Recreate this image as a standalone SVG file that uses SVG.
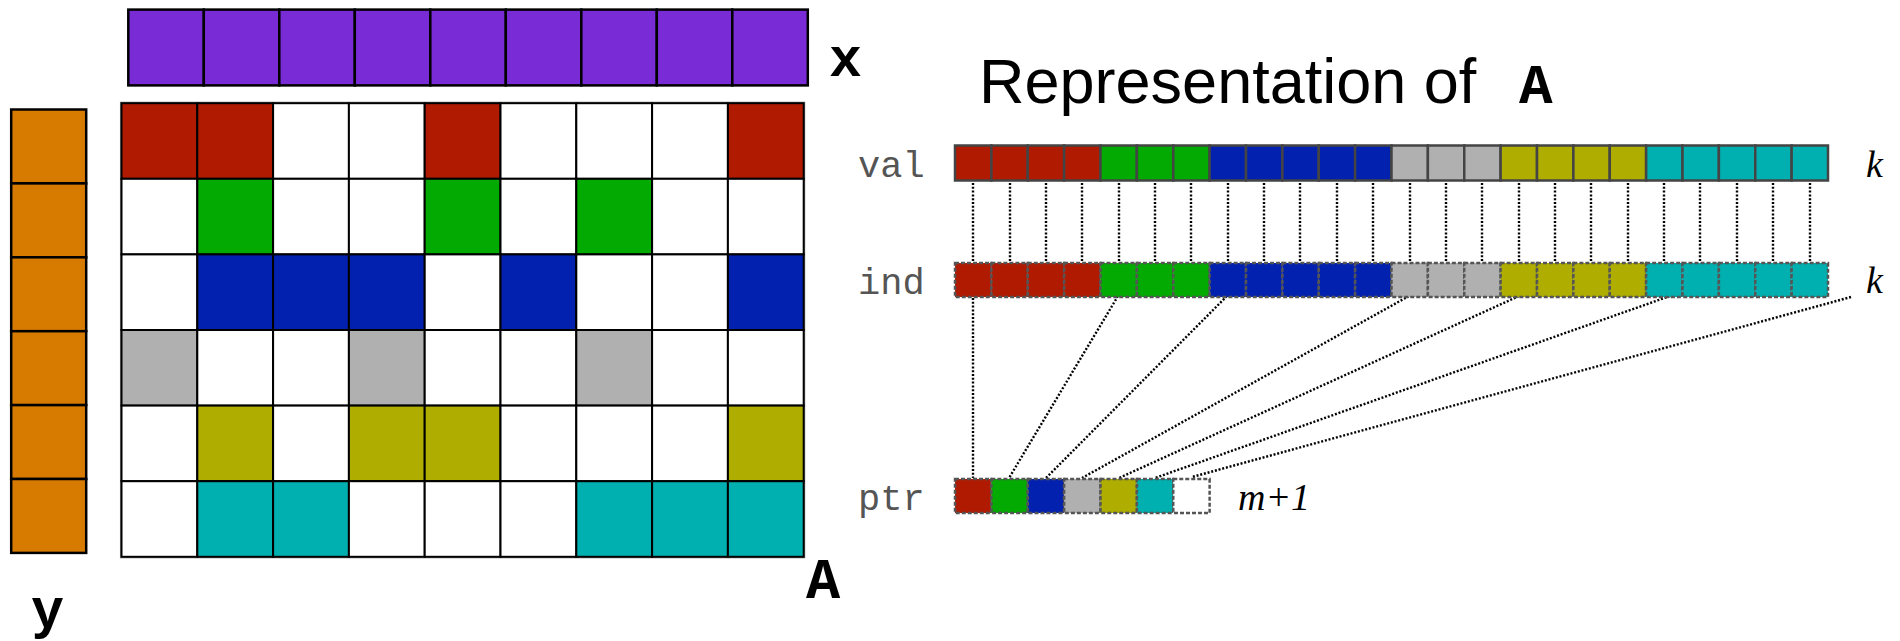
<svg xmlns="http://www.w3.org/2000/svg" width="1900" height="641" viewBox="0 0 1900 641">
<style>
.cell{stroke:#000;stroke-width:2}
.vec{stroke:#000;stroke-width:2.5}
.arr{stroke:#444;stroke-width:2.5}
.dsh{stroke:#555;stroke-width:2.5;stroke-dasharray:4 2}
.r{fill:#AF1A00}.g{fill:#02AA02}.b{fill:#0321AF}.s{fill:#B0B0B0}.o{fill:#AFAD00}.t{fill:#00AFAF}.w{fill:#fff}
.p{fill:#792CD6}.y{fill:#D77A00}
.dot{stroke:#000;stroke-width:2.4;stroke-dasharray:2 1.8;fill:none}
.big{font-family:"Liberation Mono",monospace;font-weight:bold;fill:#000}
.lab{font-family:"Liberation Mono",monospace;font-size:37px;fill:#555}
.it{font-family:"Liberation Serif",serif;font-style:italic;font-size:38px;fill:#000}
</style>
<rect width="1900" height="641" fill="#fff"/>
<g id="vector-x">
<rect class="p vec" x="128.3" y="9.6" width="75.5" height="75.8"/>
<rect class="p vec" x="203.8" y="9.6" width="75.5" height="75.8"/>
<rect class="p vec" x="279.3" y="9.6" width="75.5" height="75.8"/>
<rect class="p vec" x="354.8" y="9.6" width="75.5" height="75.8"/>
<rect class="p vec" x="430.3" y="9.6" width="75.5" height="75.8"/>
<rect class="p vec" x="505.8" y="9.6" width="75.5" height="75.8"/>
<rect class="p vec" x="581.3" y="9.6" width="75.5" height="75.8"/>
<rect class="p vec" x="656.8" y="9.6" width="75.5" height="75.8"/>
<rect class="p vec" x="732.3" y="9.6" width="75.5" height="75.8"/>
<text class="big" x="829" y="76" font-size="55">x</text>
</g>
<g id="vector-y">
<rect class="y vec" x="11.2" y="109.5" width="75" height="73.9"/>
<rect class="y vec" x="11.2" y="183.4" width="75" height="73.9"/>
<rect class="y vec" x="11.2" y="257.3" width="75" height="73.9"/>
<rect class="y vec" x="11.2" y="331.2" width="75" height="73.9"/>
<rect class="y vec" x="11.2" y="405.1" width="75" height="73.9"/>
<rect class="y vec" x="11.2" y="479.0" width="75" height="73.9"/>
<text class="big" x="31" y="627" font-size="55">y</text>
</g>
<g id="matrix-A">
<rect x="120.7" y="102.4" width="683.8" height="455.2" fill="none" stroke="#999" stroke-width="1.5"/>
<rect class="cell r" x="121.5" y="103.2" width="75.8" height="75.6"/>
<rect class="cell r" x="197.3" y="103.2" width="75.8" height="75.6"/>
<rect class="cell w" x="273.1" y="103.2" width="75.8" height="75.6"/>
<rect class="cell w" x="348.9" y="103.2" width="75.8" height="75.6"/>
<rect class="cell r" x="424.7" y="103.2" width="75.8" height="75.6"/>
<rect class="cell w" x="500.5" y="103.2" width="75.8" height="75.6"/>
<rect class="cell w" x="576.3" y="103.2" width="75.8" height="75.6"/>
<rect class="cell w" x="652.1" y="103.2" width="75.8" height="75.6"/>
<rect class="cell r" x="727.9" y="103.2" width="75.8" height="75.6"/>
<rect class="cell w" x="121.5" y="178.8" width="75.8" height="75.6"/>
<rect class="cell g" x="197.3" y="178.8" width="75.8" height="75.6"/>
<rect class="cell w" x="273.1" y="178.8" width="75.8" height="75.6"/>
<rect class="cell w" x="348.9" y="178.8" width="75.8" height="75.6"/>
<rect class="cell g" x="424.7" y="178.8" width="75.8" height="75.6"/>
<rect class="cell w" x="500.5" y="178.8" width="75.8" height="75.6"/>
<rect class="cell g" x="576.3" y="178.8" width="75.8" height="75.6"/>
<rect class="cell w" x="652.1" y="178.8" width="75.8" height="75.6"/>
<rect class="cell w" x="727.9" y="178.8" width="75.8" height="75.6"/>
<rect class="cell w" x="121.5" y="254.4" width="75.8" height="75.6"/>
<rect class="cell b" x="197.3" y="254.4" width="75.8" height="75.6"/>
<rect class="cell b" x="273.1" y="254.4" width="75.8" height="75.6"/>
<rect class="cell b" x="348.9" y="254.4" width="75.8" height="75.6"/>
<rect class="cell w" x="424.7" y="254.4" width="75.8" height="75.6"/>
<rect class="cell b" x="500.5" y="254.4" width="75.8" height="75.6"/>
<rect class="cell w" x="576.3" y="254.4" width="75.8" height="75.6"/>
<rect class="cell w" x="652.1" y="254.4" width="75.8" height="75.6"/>
<rect class="cell b" x="727.9" y="254.4" width="75.8" height="75.6"/>
<rect class="cell s" x="121.5" y="330.0" width="75.8" height="75.6"/>
<rect class="cell w" x="197.3" y="330.0" width="75.8" height="75.6"/>
<rect class="cell w" x="273.1" y="330.0" width="75.8" height="75.6"/>
<rect class="cell s" x="348.9" y="330.0" width="75.8" height="75.6"/>
<rect class="cell w" x="424.7" y="330.0" width="75.8" height="75.6"/>
<rect class="cell w" x="500.5" y="330.0" width="75.8" height="75.6"/>
<rect class="cell s" x="576.3" y="330.0" width="75.8" height="75.6"/>
<rect class="cell w" x="652.1" y="330.0" width="75.8" height="75.6"/>
<rect class="cell w" x="727.9" y="330.0" width="75.8" height="75.6"/>
<rect class="cell w" x="121.5" y="405.6" width="75.8" height="75.6"/>
<rect class="cell o" x="197.3" y="405.6" width="75.8" height="75.6"/>
<rect class="cell w" x="273.1" y="405.6" width="75.8" height="75.6"/>
<rect class="cell o" x="348.9" y="405.6" width="75.8" height="75.6"/>
<rect class="cell o" x="424.7" y="405.6" width="75.8" height="75.6"/>
<rect class="cell w" x="500.5" y="405.6" width="75.8" height="75.6"/>
<rect class="cell w" x="576.3" y="405.6" width="75.8" height="75.6"/>
<rect class="cell w" x="652.1" y="405.6" width="75.8" height="75.6"/>
<rect class="cell o" x="727.9" y="405.6" width="75.8" height="75.6"/>
<rect class="cell w" x="121.5" y="481.2" width="75.8" height="75.6"/>
<rect class="cell t" x="197.3" y="481.2" width="75.8" height="75.6"/>
<rect class="cell t" x="273.1" y="481.2" width="75.8" height="75.6"/>
<rect class="cell w" x="348.9" y="481.2" width="75.8" height="75.6"/>
<rect class="cell w" x="424.7" y="481.2" width="75.8" height="75.6"/>
<rect class="cell w" x="500.5" y="481.2" width="75.8" height="75.6"/>
<rect class="cell t" x="576.3" y="481.2" width="75.8" height="75.6"/>
<rect class="cell t" x="652.1" y="481.2" width="75.8" height="75.6"/>
<rect class="cell t" x="727.9" y="481.2" width="75.8" height="75.6"/>
<text class="big" x="806" y="598" font-size="57">A</text>
</g>
<g id="title">
<text x="979" y="103" font-family="Liberation Sans, Arial, sans-serif" font-size="63" fill="#000">Representation of</text>
<text class="big" x="1519" y="103" font-size="56">A</text>
</g>
<g id="connectors">
<path class="dot" d="M973 183V262M1010 183V262M1046 183V262M1082 183V262M1119 183V262M1155 183V262M1191 183V262M1228 183V262M1264 183V262M1300 183V262M1337 183V262M1373 183V262M1410 183V262M1446 183V262M1482 183V262M1519 183V262M1555 183V262M1591 183V262M1628 183V262M1664 183V262M1700 183V262M1737 183V262M1773 183V262M1810 183V262"/>
<path class="dot" d="M973 298L973 478M1118 296L1009 478M1227 296L1046 478M1409 296L1082 478M1519 296L1119 478M1670 296L1155 478M1851 297L1192 477"/>
</g>
<g id="array-val">
<text class="lab" x="858" y="177">val</text>
<rect class="r arr" x="955" y="145.5" width="36.375" height="35"/>
<rect class="r arr" x="991.375" y="145.5" width="36.375" height="35"/>
<rect class="r arr" x="1027.75" y="145.5" width="36.375" height="35"/>
<rect class="r arr" x="1064.125" y="145.5" width="36.375" height="35"/>
<rect class="g arr" x="1100.5" y="145.5" width="36.375" height="35"/>
<rect class="g arr" x="1136.875" y="145.5" width="36.375" height="35"/>
<rect class="g arr" x="1173.25" y="145.5" width="36.375" height="35"/>
<rect class="b arr" x="1209.625" y="145.5" width="36.375" height="35"/>
<rect class="b arr" x="1246" y="145.5" width="36.375" height="35"/>
<rect class="b arr" x="1282.375" y="145.5" width="36.375" height="35"/>
<rect class="b arr" x="1318.75" y="145.5" width="36.375" height="35"/>
<rect class="b arr" x="1355.125" y="145.5" width="36.375" height="35"/>
<rect class="s arr" x="1391.5" y="145.5" width="36.375" height="35"/>
<rect class="s arr" x="1427.875" y="145.5" width="36.375" height="35"/>
<rect class="s arr" x="1464.25" y="145.5" width="36.375" height="35"/>
<rect class="o arr" x="1500.625" y="145.5" width="36.375" height="35"/>
<rect class="o arr" x="1537" y="145.5" width="36.375" height="35"/>
<rect class="o arr" x="1573.375" y="145.5" width="36.375" height="35"/>
<rect class="o arr" x="1609.75" y="145.5" width="36.375" height="35"/>
<rect class="t arr" x="1646.125" y="145.5" width="36.375" height="35"/>
<rect class="t arr" x="1682.5" y="145.5" width="36.375" height="35"/>
<rect class="t arr" x="1718.875" y="145.5" width="36.375" height="35"/>
<rect class="t arr" x="1755.25" y="145.5" width="36.375" height="35"/>
<rect class="t arr" x="1791.625" y="145.5" width="36.375" height="35"/>
<text class="it" x="1866" y="177">k</text>
</g>
<g id="array-ind">
<text class="lab" x="858" y="294">ind</text>
<rect class="r dsh" x="955" y="263" width="36.375" height="34"/>
<rect class="r dsh" x="991.375" y="263" width="36.375" height="34"/>
<rect class="r dsh" x="1027.75" y="263" width="36.375" height="34"/>
<rect class="r dsh" x="1064.125" y="263" width="36.375" height="34"/>
<rect class="g dsh" x="1100.5" y="263" width="36.375" height="34"/>
<rect class="g dsh" x="1136.875" y="263" width="36.375" height="34"/>
<rect class="g dsh" x="1173.25" y="263" width="36.375" height="34"/>
<rect class="b dsh" x="1209.625" y="263" width="36.375" height="34"/>
<rect class="b dsh" x="1246" y="263" width="36.375" height="34"/>
<rect class="b dsh" x="1282.375" y="263" width="36.375" height="34"/>
<rect class="b dsh" x="1318.75" y="263" width="36.375" height="34"/>
<rect class="b dsh" x="1355.125" y="263" width="36.375" height="34"/>
<rect class="s dsh" x="1391.5" y="263" width="36.375" height="34"/>
<rect class="s dsh" x="1427.875" y="263" width="36.375" height="34"/>
<rect class="s dsh" x="1464.25" y="263" width="36.375" height="34"/>
<rect class="o dsh" x="1500.625" y="263" width="36.375" height="34"/>
<rect class="o dsh" x="1537" y="263" width="36.375" height="34"/>
<rect class="o dsh" x="1573.375" y="263" width="36.375" height="34"/>
<rect class="o dsh" x="1609.75" y="263" width="36.375" height="34"/>
<rect class="t dsh" x="1646.125" y="263" width="36.375" height="34"/>
<rect class="t dsh" x="1682.5" y="263" width="36.375" height="34"/>
<rect class="t dsh" x="1718.875" y="263" width="36.375" height="34"/>
<rect class="t dsh" x="1755.25" y="263" width="36.375" height="34"/>
<rect class="t dsh" x="1791.625" y="263" width="36.375" height="34"/>
<text class="it" x="1866" y="293">k</text>
</g>
<g id="array-ptr">
<text class="lab" x="858" y="510">ptr</text>
<rect class="r dsh" x="955" y="479" width="36.375" height="34"/>
<rect class="g dsh" x="991.375" y="479" width="36.375" height="34"/>
<rect class="b dsh" x="1027.75" y="479" width="36.375" height="34"/>
<rect class="s dsh" x="1064.125" y="479" width="36.375" height="34"/>
<rect class="o dsh" x="1100.5" y="479" width="36.375" height="34"/>
<rect class="t dsh" x="1136.875" y="479" width="36.375" height="34"/>
<rect class="w dsh" x="1173.25" y="479" width="36.375" height="34"/>
<text class="it" x="1238" y="510">m+1</text>
</g>
</svg>
